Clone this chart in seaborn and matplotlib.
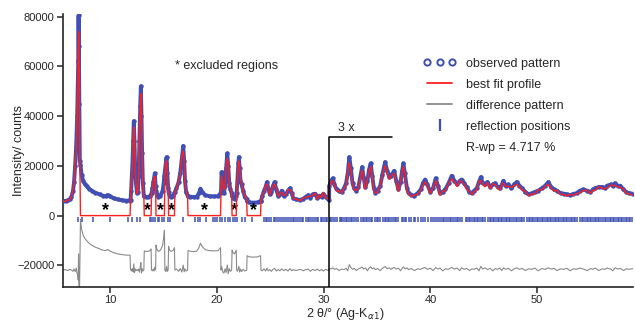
import numpy as np
import pandas as pd
import matplotlib
matplotlib.use("Agg")
import matplotlib.pyplot as plt
from matplotlib.lines import Line2D
from matplotlib.legend_handler import HandlerLine2D
import seaborn as sns

# ---------------- data ----------------
two_theta = [5.55, 5.8, 6.0, 6.2, 6.35, 6.5, 6.6, 6.7, 6.8, 6.89, 6.95, 6.99, 7.02, 7.05, 7.09, 7.14,
             7.2, 7.3, 7.45, 7.6, 7.8, 8.0, 8.3, 8.6, 9.0, 9.3, 9.55, 9.75, 9.95, 10.3, 10.7, 11.1, 11.5, 11.85,
             11.89, 11.95, 12.02, 12.08, 12.14, 12.2, 12.26, 12.32, 12.4, 12.5, 12.58, 12.65, 12.72, 12.8, 12.86,
             12.92, 12.98, 13.05, 13.14, 13.18, 13.3, 13.5, 13.7, 13.82, 13.86, 13.95, 14.03, 14.1, 14.17, 14.24,
             14.28, 14.35, 14.5, 14.7, 14.9, 15.0, 15.07, 15.11, 15.2, 15.27, 15.34, 15.42, 15.46, 15.55, 15.7,
             15.9, 16.01, 16.05, 16.2, 16.4, 16.55, 16.7, 16.83, 16.92, 17.0, 17.1, 17.24, 17.28, 17.5, 17.8,
             18.1, 18.3, 18.45, 18.6, 18.9, 19.3, 19.7, 20.1, 20.33, 20.37, 20.43, 20.55, 20.65, 20.75, 20.85,
             20.96, 21.05, 21.15, 21.25, 21.37, 21.41, 21.5, 21.65, 21.8, 21.84, 21.92, 22.0, 22.05, 22.12, 22.2,
             22.3, 22.45, 22.6, 22.78, 22.82, 23.0, 23.4, 23.8, 24.08, 24.12, 24.25, 24.4, 24.55, 24.68, 24.8,
             24.95, 25.1, 25.25, 25.4, 25.55, 25.75, 25.9, 26.06, 26.25, 26.45, 26.65, 26.84, 27.0, 27.15, 27.4,
             27.8, 28.1, 28.3, 28.55, 28.75, 28.95, 29.2, 29.4, 29.6, 29.8, 29.96, 30.2, 30.43, 30.5, 30.52,
             30.7, 30.85, 31.0, 31.2, 31.45, 31.7, 31.9, 32.1, 32.25, 32.4, 32.55, 32.7, 32.85, 33.05, 33.25,
             33.45, 33.6, 33.75, 33.9, 34.1, 34.25, 34.4, 34.55, 34.7, 34.85, 35.05, 35.3, 35.5, 35.75, 35.95,
             36.15, 36.3, 36.6, 36.8, 37.0, 37.2, 37.35, 37.47, 37.6, 37.8, 37.95, 38.2, 38.5, 38.8, 39.1, 39.3,
             39.5, 39.7, 40.0, 40.25, 40.5, 40.7, 40.9, 41.15, 41.4, 41.7, 42.0, 42.25, 42.5, 42.75, 42.94,
             43.15, 43.4, 43.65, 43.9, 44.1, 44.35, 44.55, 44.73, 44.9, 45.1, 45.35, 45.6, 45.85, 46.07, 46.3,
             46.5, 46.7, 46.85, 47.05, 47.3, 47.6, 47.85, 48.1, 48.35, 48.6, 48.9, 49.2, 49.5, 49.8, 50.1,
             50.45, 50.75, 51.07, 51.3, 51.6, 51.86, 52.2, 52.5, 52.8, 53.1, 53.4, 53.7, 54.0, 54.35, 54.7,
             55.0, 55.25, 55.45, 55.8, 56.1, 56.35, 56.55, 56.9, 57.1, 57.3, 57.55, 57.8, 58.1, 58.35, 58.6, 59.0]

observed = [5900, 5900, 6100, 6600, 7500, 10000, 13500, 20000, 28000, 40000, 52000, 62000, 80500, 68000, 45000, 22000,
            20500, 16500, 14000, 12800, 11700, 10800, 9900, 9200, 8500, 8000, 7800, 8300, 7700, 7000, 6500, 6200, 6000, 6000,
            6100, 10000, 16000, 22000, 30000, 38000, 30000, 20000, 13000, 9000, 9500, 16000, 30000, 44000, 52000,
            40000, 25000, 13000, 8000, 7700, 7500, 7500, 7800, 8500, 9000, 11000, 13500, 15000, 17000, 12000,
            10000, 8500, 7500, 8000, 10000, 13000, 16000, 18000, 21000, 23500, 17000, 11000, 9500, 8000, 7500,
            8000, 9000, 9500, 11000, 13500, 17000, 23000, 28000, 22000, 14000, 9500, 8000, 7800, 7600, 7400,
            7600, 9000, 10800, 9500, 8200, 7800, 7700, 7800, 9000, 9500, 17500, 12000, 9000, 12000, 19000,
            25000, 20000, 13000, 10500, 9000, 8000, 7000, 6500, 8000, 9000, 15000, 21000, 23500, 19000, 14000,
            12500, 10000, 7500, 6500, 5800, 5300, 5200, 5300, 5800, 6000, 8000, 10000, 11500, 13500, 11000,
            8500, 9500, 12000, 13500, 10500, 7800, 8500, 10000, 8000, 8500, 10000, 11000, 9000, 7000, 6500,
            6300, 6800, 7500, 8200, 7200, 8500, 8800, 7000, 8000, 7500, 8800, 7500, 6500, 6300, 12000,
            14000, 15000, 12500, 10500, 9800, 9500, 11000, 13000, 17000, 23500, 19000, 13000, 11000, 10000, 11500,
            16000, 19500, 15000, 11500, 14000, 18500, 21000, 16000, 11000, 9200, 10000, 12000, 16500, 21500, 18000,
            15500, 16000, 18000, 14000, 10500, 13500, 18000, 21000, 17000, 11000, 9000, 8300, 8000, 9000, 10500, 13000,
            14500, 12500, 9500, 11000, 15000, 12000, 9000, 9500, 10500, 13000, 16000, 14000, 12500, 14000, 14500,
            13000, 11500, 9500, 9000, 10000, 11000, 13500, 15500, 13000, 12500, 13500, 11500, 12500, 13000, 11500,
            11000, 12500, 14000, 12000, 12500, 11000, 12500, 13500, 12000, 11000, 9500, 8500, 9000, 9500, 10000,
            11000, 12000, 13500, 11500, 10500, 10000, 9000, 8800, 8500, 8200, 8700, 9000, 10000, 10500, 10000,
            9500, 10500, 11000, 11500, 11500, 11000, 12000, 12500, 12000, 13000, 12000, 12000, 10500, 9500, 9000, 8800]

# observed minus calculated, outside the excluded regions
residual = [0, 200, -200, 300, 0, -500, 400, -600, 800, -1500, -2000, -4000, 6500, -5000, -15000, 0,
            0, 0, 0, 0, 0, 0, 0, 0, 0, 0, 0, 0, 0, 0, 0, 0, 0, 0,
            0, 300, -400, 600, -800, 2500, -1000, 500, -300, 200, -200, 400, -900, 1000, 3000,
            -1200, 600, -400, 0, 0, 0, 0, 0, 0, 0, -300, 500, -400, 1200, 0,
            0, 0, 0, 0, 0, 0, 0, 0, -600, 1500, -500, 0, 0, 0, 0,
            0, 0, 0, 400, -500, 600, -800, 2000, -700, 500, -400, 0, 0, 0, 0,
            0, 0, 0, 0, 0, 0, 0, 0, 0, 0, 1500, -800, -1200, 500, -1000,
            2000, -1500, 600, -500, 0, 0, 0, 0, 0, 0, -500, 800, 1500, -800, 400,
            -600, 300, -400, 0, 0, 0, 0, 0, 0, 0, -300, 500, -400, 800, -300,
            200, -500, 300, 700, -400, 200, -300, 500, -200, 300, -400, 600, -300, 200, -200,
            300, -300, 200, 400, -500, 300, -200, 400, -300, 200, -400, 300, -200, 0, 600,
            500, 900, 300, 600, -200, 400, 200, 700, -300, 2200, 1000, 300, 700, -200, 500,
            800, 1200, 400, 900, -300, 800, 1300, 500, 900, 200, 600, -200, 700, 1400, 600,
            900, 300, 1100, 400, 800, -300, 700, 1300, 500, 900, 200, 600, -200, 500, 300, 800,
            1000, 300, 700, -200, 1000, 400, 800, -300, 500, 300, 1100, 400, 800, -200, 900,
            300, 700, -200, 500, 300, 800, -300, 1500, 400, 900, 200, 700, -300, 600, 300,
            800, -200, 900, 300, 700, -300, 500, 900, 300, 700, -200, 500, 300, 800, -300,
            600, 300, 900, 400, 700, -200, 500, 300, 700, -300, 500, 300, 800, 400, -200,
            600, 300, 800, -200, 500, 300, 800, 400, -300, 900, 400, 700, -200, 500, 300, 600]

excluded_start = [7.14, 13.14, 14.24, 15.42, 17.24, 21.37, 22.78]
excluded_end = [11.89, 13.86, 15.11, 16.05, 20.37, 21.84, 24.12]

reflections = [6.98, 7.3, 8.39, 9.95, 11.67, 11.99, 12.46, 12.77, 13.7, 13.83, 14.0, 14.2, 14.5, 14.6, 14.8, 15.0,
               15.4, 15.6, 16.8, 17.9, 18.2, 18.4, 19.0, 19.6, 19.8, 19.96, 20.27, 20.43, 20.74, 21.0, 21.2,
               21.52, 21.68, 21.84, 22.3, 22.62, 23.25, 24.4, 24.55, 24.7, 24.9, 25.1, 25.3, 25.45, 25.6, 25.85,
               26.0, 26.2, 26.35, 26.55, 26.7, 26.9, 27.1, 27.25, 27.4, 27.6, 27.8, 27.95, 28.1, 28.3, 28.5,
               28.65, 28.8, 29.0, 29.2, 29.35, 29.5, 29.7, 29.85, 30.0, 30.2, 30.35,
               30.55, 30.7, 30.85, 31.05, 31.2, 31.5, 31.62, 31.75, 31.9, 32.05, 32.2, 32.4, 32.55, 32.68, 32.85,
               33.0, 33.2, 33.5, 33.65, 33.8, 33.95, 34.1, 34.25, 34.4, 34.55, 34.8, 35.0, 35.12, 35.25, 35.55,
               35.7, 35.85, 36.0, 36.15, 36.3, 36.5, 36.65, 36.8, 37.0, 37.3, 37.45, 37.6, 37.75, 38.0, 38.2,
               38.45, 38.6, 38.8, 39.1, 39.3, 39.5, 39.75, 40.05, 40.2, 40.4, 40.6, 40.8, 41.0, 41.15, 41.3,
               41.5, 41.65, 41.8, 41.95, 42.1, 42.3, 42.45, 42.6, 42.8, 43.0, 43.3, 43.45, 43.6, 43.75, 43.9,
               44.05, 44.2, 44.35, 44.5, 44.65, 44.8, 44.95, 45.1, 45.4, 45.55, 45.7, 45.85, 46.0, 46.15, 46.3,
               46.45, 46.6, 46.75, 46.9, 47.05, 47.2, 47.35, 47.5, 47.65, 47.85, 48.0, 48.15, 48.3, 48.45, 48.6,
               48.75, 49.05, 49.2, 49.35, 49.5, 49.65, 49.8, 49.95, 50.1, 50.3, 50.45, 50.6, 50.75, 50.9, 51.05,
               51.2, 51.35, 51.5, 51.65, 51.8, 51.95, 52.1, 52.25, 52.4, 52.55, 52.7, 52.85, 53.0, 53.15, 53.3,
               53.45, 53.6, 53.75, 54.05, 54.2, 54.35, 54.5, 54.65, 54.8, 54.95, 55.1, 55.25, 55.4, 55.55, 55.7,
               55.85, 56.0, 56.2, 56.35, 56.5, 56.65, 56.8, 56.95, 57.1, 57.25, 57.4, 57.55, 57.7, 57.85, 58.0,
               58.15, 58.3, 58.45, 58.6, 58.75, 58.9]

difference_offset = -21900
scale_break = 30.5
scale_label = "3 x"
r_wp = "R-wp = 4.717 %"

# ---------------- derived frame ----------------
x = np.array(two_theta)
obs = np.array(observed, dtype=float)
res = np.array(residual, dtype=float)
mask = np.zeros_like(x, dtype=bool)
for a, b in zip(excluded_start, excluded_end):
    mask |= (x > a) & (x < b)
calc = np.where(mask, 0.0, obs - res)
diff = obs - calc + difference_offset
df = pd.DataFrame({"x": x, "obs": obs, "calc": calc, "diff": diff})

# ---------------- style ----------------
sns.set_style("ticks")
plt.rcParams["font.family"] = ["Liberation Sans", "DejaVu Sans"]
plt.rcParams["axes.linewidth"] = 1.2

BLUE = "#3f4fb3"
RED = "#ff1f1f"
GRAY = "#8a8a8a"

fig = plt.figure(figsize=(6.35, 3.21), dpi=100)
ax = fig.add_axes([0.099, 0.106, 0.898, 0.85])

sns.lineplot(data=df, x="x", y="obs", sort=False, estimator=None, ax=ax, color=BLUE, lw=2.8, zorder=2)
sns.scatterplot(data=df, x="x", y="obs", ax=ax, color=BLUE, s=8, edgecolor=BLUE, linewidth=0.3, zorder=3)
sns.lineplot(data=df, x="x", y="calc", sort=False, estimator=None, ax=ax, color=RED, lw=1.0, zorder=4)
sns.lineplot(data=df, x="x", y="diff", sort=False, estimator=None, ax=ax, color=GRAY, lw=0.8, zorder=2)

ax.vlines(reflections, -2700, -400, color=BLUE, lw=1.1, zorder=3)

for a, b in zip(excluded_start, excluded_end):
    ax.text((a + b) / 2, 2000, "*", ha="center", va="center", fontsize=13, fontweight="bold", color="black")

ylo, yhi = -28700, 81000
ax.plot([scale_break, scale_break, 36.4], [ylo, 31500, 31500], color="black", lw=1.1, zorder=5)
ax.text(31.3, 33000, scale_label, fontsize=9, ha="left", va="bottom")
ax.text(16.1, 60000, "* excluded regions", fontsize=9, ha="left", va="center")

ax.set_xlim(5.55, 59.0)
ax.set_ylim(ylo, yhi)
ax.set_xticks([10, 20, 30, 40, 50])
ax.set_yticks([-20000, 0, 20000, 40000, 60000, 80000])
ax.tick_params(labelsize=8, length=4, width=1.1, direction="out", pad=2)
ax.set_xlabel(r"2 θ/° (Ag-K$_{\alpha1}$)", fontsize=9)
ax.set_ylabel("Intensity/ counts", fontsize=9)
ax.xaxis.set_label_coords(0.495, -0.07)
ax.yaxis.set_label_coords(-0.066, 0.5)
sns.despine(ax=ax)

handles = [
    Line2D([], [], ls="none", marker="o", mfc="none", mec=BLUE, mew=1.4, ms=4.5),
    Line2D([], [], color=RED, lw=1.3),
    Line2D([], [], color=GRAY, lw=1.3),
    Line2D([], [], ls="none", marker="|", color=BLUE, ms=8, mew=1.6),
    Line2D([], [], ls="none", marker=None),
]
labels = ["observed pattern", "best fit profile", "difference pattern", "reflection positions", r_wp]
leg = ax.legend(handles, labels, loc="upper left", bbox_to_anchor=(0.632, 0.84), frameon=False,
                fontsize=9, numpoints=3, handlelength=2.6, handletextpad=0.8, labelspacing=0.72,
                borderaxespad=0, borderpad=0,
                handler_map={handles[3]: HandlerLine2D(numpoints=1)})

fig.savefig("out.png", dpi=100)
